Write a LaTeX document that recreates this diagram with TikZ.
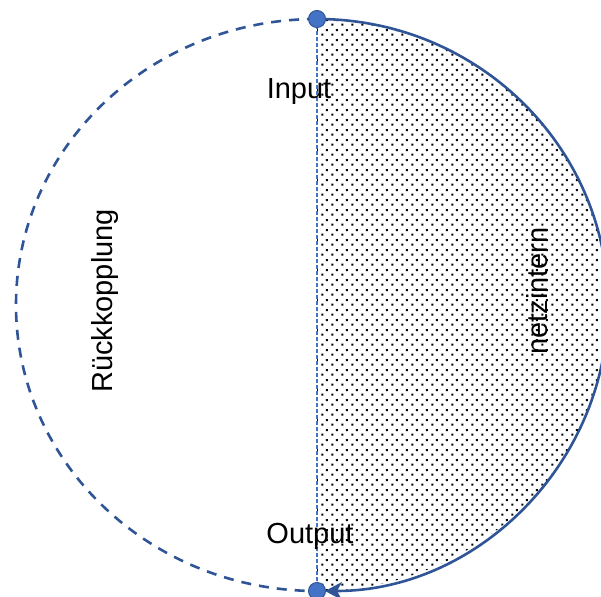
\documentclass[tikz,border=0pt]{standalone}
\usepackage{fontspec}
\setmainfont{Liberation Sans}
\usetikzlibrary{patterns.meta,arrows.meta,backgrounds}
\definecolor{arcblue}{HTML}{2F5597}
\definecolor{dotblue}{HTML}{4472C4}

% staggered grid of small square dots
\pgfdeclarepattern{
  name=finedots, type=uncolored,
  bottom left={\pgfpoint{0pt}{0pt}}, top right={\pgfpoint{10pt}{10pt}},
  tile size={\pgfpoint{10pt}{10pt}},
  code={
    \pgfpathrectangle{\pgfpoint{1.4pt}{1.4pt}}{\pgfpoint{2.2pt}{2.2pt}}
    \pgfpathrectangle{\pgfpoint{6.4pt}{6.4pt}}{\pgfpoint{2.2pt}{2.2pt}}
    \pgfusepath{fill}
  }
}

\begin{document}
\begin{tikzpicture}[x=1pt,y=-1pt,
  lbl/.style={font=\fontsize{29}{34}\selectfont, inner sep=0pt, text=black},
  port/.style={circle, fill=dotblue, draw=arcblue, line width=1pt,
               minimum size=17pt, inner sep=0pt},
  rim/.style={draw=arcblue, line width=2.6pt},
  backrim/.style={rim, dash pattern=on 10pt off 8pt},
  midline/.style={draw=dotblue, line width=1.2pt, dash pattern=on 4pt off 2pt},
  tip/.style={-{Stealth[length=17pt,width=18pt,inset=5pt]}, shorten >=8pt}]
\useasboundingbox (0,0) rectangle (601,596);

% end points of the loop
\node[port] (top) at (317,19) {};
\node[port] (bot) at (317,591) {};

% labels
\node[lbl, anchor=base] (in) at (299,99) {Input};
\node[lbl, anchor=base] (out) at (310,543) {Output};
\node[lbl, rotate=90] (fb) at (104.5,301) {Rückkopplung};
\node[lbl, rotate=90] (net) at (537.5,291) {netzintern};

\begin{scope}[on background layer]
  % dotted inner half
  \fill[pattern=finedots, pattern color=black]
    (top.center) arc[start angle=-90, end angle=90, x radius=291, y radius=286] -- cycle;
  \draw[midline] (top.center) -- (bot.center);
  % feedback half (dashed) and internal half (solid, with arrow)
  \draw[backrim] (top.center)
    arc[start angle=270, end angle=90, x radius=301, y radius=286];
  \draw[rim, tip] (top.center)
    arc[start angle=-90, end angle=90, x radius=291, y radius=286];
\end{scope}
\end{tikzpicture}
\end{document}
